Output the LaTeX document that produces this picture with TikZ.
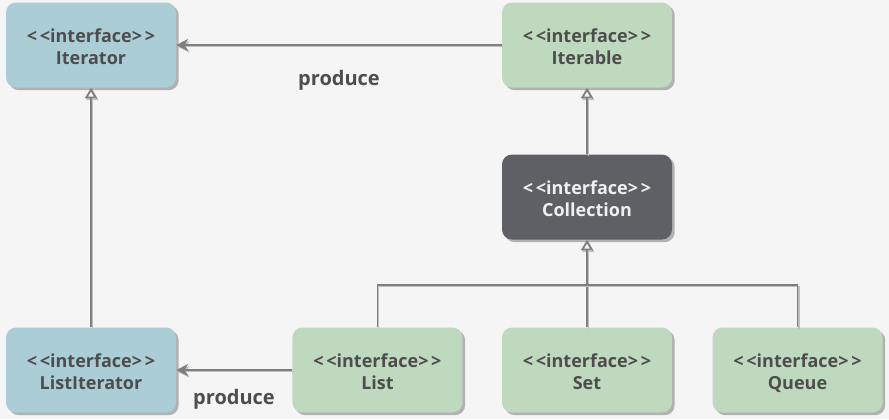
\documentclass[tikz,border=0pt]{standalone}
\usepackage{fontspec}
\setmainfont{Open Sans}
\usepackage{tikz}
\usetikzlibrary{arrows.meta,positioning,shadows,backgrounds}
\definecolor{BgGray}{HTML}{F5F5F5}
\definecolor{IterBlue}{HTML}{ABCDD6}
\definecolor{CollGreen}{HTML}{BFD9BE}
\definecolor{CollDark}{HTML}{5E6066}
\definecolor{TextGray}{HTML}{4D4D4D}
\definecolor{LineGray}{HTML}{7F7F7F}
\newcommand{\ibox}[1]{\rule{0pt}{12.7pt}\textless\kern2pt\textless interface\textgreater\kern2pt\textgreater\\\smash{#1}}
\tikzset{
  % Base box
  IB/.style={rectangle,rounded corners=7.5pt,
             minimum width=127.5pt,minimum height=63.75pt,
             text centered,align=center,
             font=\fontsize{13.5}{16.5}\selectfont\bfseries,text=TextGray,
             drop shadow={shadow xshift=2pt,shadow yshift=-2pt,
                          fill=black!30,opacity=1}},
  % Colour variants
  nB/.style={IB,fill=IterBlue},
  nG/.style={IB,fill=CollGreen},
  nD/.style={IB,fill=CollDark,text=white!94!black},
  % Connectors
  link/.style={draw=LineGray,line width=1.4pt,
               preaction={draw=black!25,line width=1pt,
                          transform canvas={yshift=-1.3pt,xshift=1pt}}},
  prod/.style={link,-{Stealth[length=9pt,width=9pt]}},
  inh/.style={link,-{Triangle[open,length=8pt,width=9pt,fill=BgGray]}},
  % Label style
  LP/.style={font=\fontsize{15}{17}\selectfont\bfseries,text=TextGray}
}

\begin{document}
\begin{tikzpicture}[x=0.75pt,y=-0.75pt]

  %------ BACKGROUND ------
  \fill[BgGray] (0,0) rectangle (889,419);

  %------ ITERATORS ------
  \node[nB] (iter)     at (91,45)  {\ibox{Iterator}};
  \node[nB] (listiter) at (91,370) {\ibox{ListIterator}};

  %------ COLLECTIONS ------
  \node[nG] (iterable) at (587,45)  {\ibox{Iterable}};
  \node[nD] (coll)     at (587,197) {\ibox{Collection}};
  \node[nG] (set)      at (587,370) {\ibox{Set}};
  \node[nG,left=29.25pt of set] (list)  {\ibox{List}};
  \node[nG,right=30pt of set]   (queue) {\ibox{Queue}};

  \coordinate (bus) at (587,285);

  % produce arrows
  \draw[prod] (iterable) -- (iter);
  \node[LP] at (339,80) (lprod1) {produce};
  \draw[prod] (list) -- (listiter);
  \node[LP] at (234,399) (lprod2) {produce};

  % inheritance
  \draw[inh] (listiter) -- (iter);
  \draw[inh] (coll) -- (iterable);
  \draw[inh] (set) -- (coll);
  \draw[link] (list.north) |- (bus);
  \draw[link] (queue.north) |- (bus);
\end{tikzpicture}
\end{document}
